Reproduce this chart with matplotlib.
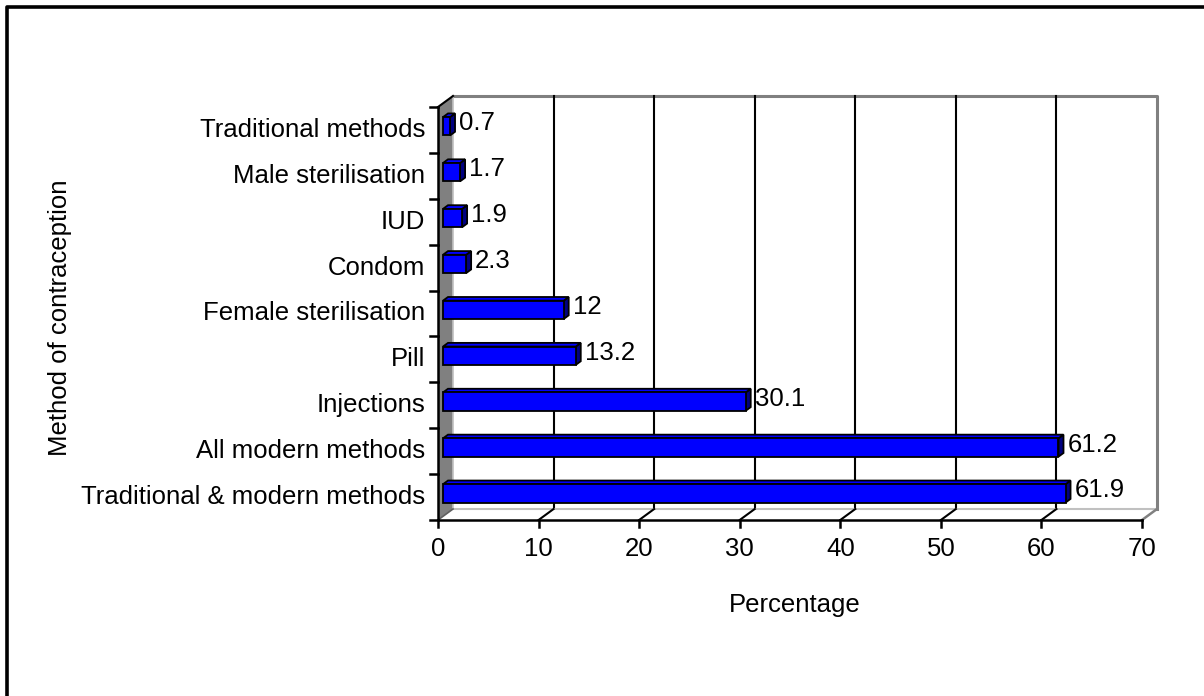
import matplotlib
matplotlib.use("Agg")
import matplotlib.pyplot as plt
from matplotlib.patches import Polygon
from matplotlib.lines import Line2D

plt.rcParams['font.family'] = ['Liberation Sans', 'DejaVu Sans']

# survey data: share of women using each method (%)
methods = ["Traditional & modern methods", "All modern methods", "Injections", "Pill",
           "Female sterilisation", "Condom", "IUD", "Male sterilisation",
           "Traditional methods"]
percent = [61.9, 61.2, 30.1, 13.2, 12, 2.3, 1.9, 1.7, 0.7]
xticks = [0, 10, 20, 30, 40, 50, 60, 70]

FS = 18.5
W, H = 1204, 696
fig = plt.figure(figsize=(W / 100, H / 100), dpi=100)
ax = fig.add_axes([438 / W, 176 / H, 704 / W, 413 / H])
ax.set_xlim(0, 70)
ax.set_ylim(-0.5, len(methods) - 0.5)
ax.axis("off")

# depth of the 3d box, in data units (15 px right, 11 px up)
DX = 15 / (704 / 70)
DY = 11 / (413 / len(methods))
x0, x1 = 0, 70
y0, y1 = -0.5, len(methods) - 0.5


def p(x, y, d):
    return (x + d * DX, y + d * DY)


def poly(pts, **kw):
    ax.add_patch(Polygon(pts, closed=True, clip_on=False, **kw))


def line(pts, **kw):
    xs, ys = zip(*pts)
    ax.add_line(Line2D(xs, ys, clip_on=False, **kw))


# back wall
poly([p(x0, y0, 1), p(x1, y0, 1), p(x1, y1, 1), p(x0, y1, 1)],
     facecolor="white", edgecolor="none", zorder=1)
line([p(x0, y1, 1), p(x1, y1, 1), p(x1, y0, 1)], color="#808080", lw=2.2, zorder=2)
for t in xticks[1:-1]:
    line([p(t, y0, 1), p(t, y1, 1)], color="black", lw=1.5, zorder=2)

# floor
poly([p(x0, y0, 0), p(x1, y0, 0), p(x1, y0, 1), p(x0, y0, 1)],
     facecolor="white", edgecolor="none", zorder=2)
line([p(x0, y0, 1), p(x1, y0, 1)], color="#c0c0c0", lw=1.5, zorder=3)
line([p(x1, y0, 0), p(x1, y0, 1)], color="#808080", lw=1.8, zorder=3)
for t in xticks[1:-1]:
    line([p(t, y0, 0), p(t, y0, 1)], color="black", lw=1.5, zorder=3)

# left side wall
poly([p(x0, y0, 0), p(x0, y0, 1), p(x0, y1, 1), p(x0, y1, 0)],
     facecolor="#808080", edgecolor="none", zorder=3)
line([p(x0, y0, 1), p(x0, y1, 1)], color="#c0c0c0", lw=1.2, zorder=3)
line([p(x0, y1, 0), p(x0, y1, 1)], color="black", lw=1.5, zorder=4)
line([p(x0, y0, 0), p(x0, y0, 1)], color="#606060", lw=1.2, zorder=4)

# front axes
line([p(x0, y1, 0), p(x0, y0, 0), p(x1, y0, 0)], color="black", lw=1.8, zorder=6)
ytick_len = 8 / (704 / 70)
for k in range(len(methods) + 1):
    yb = -0.5 + k
    line([(x0 - ytick_len, yb), (x0, yb)], color="black", lw=1.8, zorder=6)
xtick_len = 7 / (413 / len(methods))
for t in xticks:
    line([(t, y0), (t, y0 - xtick_len)], color="black", lw=1.8, zorder=6)
    ax.text(t, y0 - 0.64, str(t), ha="center", va="center", fontsize=FS)

# bars, drawn in the middle third of the depth
h = 0.2
d1, d2 = 1 / 3, 2 / 3
for i, (name, v) in enumerate(zip(methods, percent)):
    side = [p(v, i - h, d1), p(v, i - h, d2), p(v, i + h, d2), p(v, i + h, d1)]
    top = [p(0, i + h, d1), p(v, i + h, d1), p(v, i + h, d2), p(0, i + h, d2)]
    front = [p(0, i - h, d1), p(v, i - h, d1), p(v, i + h, d1), p(0, i + h, d1)]
    poly(side, facecolor="#000080", edgecolor="black", lw=1.3, zorder=7)
    poly(top, facecolor="#0000ff", edgecolor="black", lw=1.3, zorder=7)
    poly(front, facecolor="#0000ff", edgecolor="black", lw=1.3, zorder=8)
    lx, ly = p(v, i, 0.6)
    ax.annotate(f"{v:g}", (lx, ly), xytext=(3.5, 0), textcoords="offset points",
                ha="left", va="center", fontsize=FS, zorder=9)
    ax.text(x0 - 1.3, i, name, ha="right", va="center", fontsize=FS)

fig.text(795 / W, 1 - 605 / H, "Percentage", ha="center", va="center", fontsize=FS)
fig.text(60 / W, 1 - 318 / H, "Method of contraception", ha="center", va="center",
         rotation=90, fontsize=FS)

# chart area border (runs off the right and bottom edges)
fig.add_artist(Line2D([7 / W, 7 / W, 1.05], [-0.05, 1 - 7 / H, 1 - 7 / H],
                      color="black", lw=2.6, transform=fig.transFigure))

fig.savefig("out.png", dpi=100, facecolor="white")
